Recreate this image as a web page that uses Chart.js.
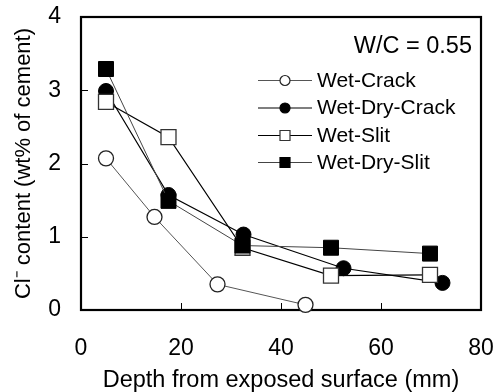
<!DOCTYPE html>
<html>
<head>
<meta charset="utf-8">
<script src="https://cdn.jsdelivr.net/npm/chart.js@4.4.1/dist/chart.umd.min.js"></script>
<style>
  html, body { margin: 0; padding: 0; background: #fff; }
  #wrap { width: 496px; height: 392px; }
</style>
</head>
<body>
<div id="wrap"><canvas id="c" width="496" height="392"></canvas></div>
<script>
// ---- data ----
const seriesNames = ['Wet-Crack', 'Wet-Dry-Crack', 'Wet-Slit', 'Wet-Dry-Slit'];
const wetCrackX = [5, 14.7, 27.3, 44.9];
const wetCrackY = [2.07, 1.27, 0.35, 0.07];
const wetDryCrackX = [5, 17.5, 32.5, 52.5, 72.3];
const wetDryCrackY = [2.99, 1.57, 1.03, 0.57, 0.37];
const wetSlitX = [5, 17.5, 32.3, 50, 69.8];
const wetSlitY = [2.84, 2.36, 0.85, 0.47, 0.48];
const wetDrySlitX = [5, 17.5, 32.3, 50, 69.8];
const wetDrySlitY = [3.29, 1.49, 0.88, 0.85, 0.77];
const xTickValues = [0, 20, 40, 60, 80];
const yTickValues = [0, 1, 2, 3, 4];
const annotationText = 'W/C = 0.55';
const xTitle = 'Depth from exposed surface (mm)';
const yTitle = 'Cl\u207B content (wt% of cement)';

const pts = (xs, ys) => xs.map((x, i) => ({ x: x, y: ys[i] }));
const FONT = '"Liberation Sans", Arial, Helvetica, sans-serif';

const styles = [
  { line: '#555', lw: 1, style: 'circle', r: 7.5, fill: '#fff', border: '#222', bw: 1.3, order: 4 },
  { line: '#000', lw: 1.2, style: 'circle', r: 7.5, fill: '#000', border: '#000', bw: 1, order: 3 },
  { line: '#000', lw: 1.2, style: 'rect', r: 10.6, fill: '#fff', border: '#333', bw: 1.3, order: 2 },
  { line: '#444', lw: 1, style: 'rect', r: 10.6, fill: '#000', border: '#000', bw: 1, order: 1 }
];
const seriesData = [
  pts(wetCrackX, wetCrackY),
  pts(wetDryCrackX, wetDryCrackY),
  pts(wetSlitX, wetSlitY),
  pts(wetDrySlitX, wetDrySlitY)
];

const datasets = seriesNames.map((name, i) => ({
  label: name,
  data: seriesData[i],
  borderColor: styles[i].line,
  borderWidth: styles[i].lw,
  pointStyle: styles[i].style,
  pointRadius: styles[i].r,
  pointHoverRadius: styles[i].r,
  pointBackgroundColor: styles[i].fill,
  pointBorderColor: styles[i].border,
  pointBorderWidth: styles[i].bw,
  showLine: true,
  tension: 0,
  fill: false,
  clip: false,
  order: styles[i].order
}));

const zeroPad = s => { s.paddingLeft = 0; s.paddingRight = 0; s.paddingTop = 0; s.paddingBottom = 0; };

const framePlugin = {
  id: 'frame',
  beforeDatasetsDraw(chart) {
    const { ctx, chartArea: a, scales } = chart;
    ctx.save();
    ctx.strokeStyle = '#000';
    ctx.lineWidth = 1;
    const tl = 7;
    scales.x.ticks.forEach(t => {
      if (t.value <= scales.x.min || t.value >= scales.x.max) return;
      const px = Math.round(scales.x.getPixelForValue(t.value)) + 0.5;
      ctx.beginPath(); ctx.moveTo(px, a.bottom); ctx.lineTo(px, a.bottom - tl); ctx.stroke();
    });
    scales.y.ticks.forEach(t => {
      if (t.value <= scales.y.min || t.value >= scales.y.max) return;
      const py = Math.round(scales.y.getPixelForValue(t.value)) + 0.5;
      ctx.beginPath(); ctx.moveTo(a.left, py); ctx.lineTo(a.left + tl, py); ctx.stroke();
    });
    ctx.lineWidth = 2.2;
    ctx.strokeRect(a.left, a.top, a.right - a.left, a.bottom - a.top);
    ctx.restore();
  },
  afterDatasetsDraw(chart) {
    const { ctx, chartArea: a } = chart;
    ctx.save();
    ctx.fillStyle = '#000';
    ctx.font = '23.5px ' + FONT;
    ctx.textAlign = 'right';
    ctx.textBaseline = 'middle';
    ctx.fillText(annotationText, a.right - 9, a.top + 30);
    // legend
    const lx0 = 258, lx1 = 312, lmid = 285, tx = 317;
    const rows = [80, 107.5, 135, 162];
    ctx.font = '21px ' + FONT;
    ctx.textAlign = 'left';
    seriesNames.forEach((name, i) => {
      const s = styles[i];
      const y = rows[i];
      ctx.strokeStyle = s.line;
      ctx.lineWidth = 1.2;
      ctx.beginPath(); ctx.moveTo(lx0, y + 0.5); ctx.lineTo(lx1, y + 0.5); ctx.stroke();
      ctx.fillStyle = s.fill;
      ctx.strokeStyle = s.border;
      ctx.lineWidth = 1.2;
      ctx.beginPath();
      if (s.style === 'circle') {
        ctx.arc(lmid, y + 0.5, 5, 0, Math.PI * 2);
      } else {
        ctx.rect(lmid - 5, y - 4.5, 10, 10);
      }
      ctx.fill(); ctx.stroke();
      ctx.fillStyle = '#000';
      ctx.fillText(name, tx, y + 1);
    });
    ctx.restore();
  }
};

new Chart(document.getElementById('c'), {
  type: 'scatter',
  data: { datasets: datasets },
  options: {
    responsive: false,
    animation: false,
    events: [],
    layout: { padding: { left: 0, right: 15, top: 17, bottom: 0 } },
    plugins: { legend: { display: false }, tooltip: { enabled: false } },
    scales: {
      x: {
        type: 'linear',
        min: xTickValues[0],
        max: xTickValues[xTickValues.length - 1],
        afterBuildTicks: s => { s.ticks = xTickValues.map(v => ({ value: v })); },
        afterFit: s => { s.height = 82; zeroPad(s); },
        grid: { display: false, drawTicks: false },
        border: { display: false },
        ticks: { color: '#000', font: { family: FONT, size: 23 }, padding: 25, maxRotation: 0 },
        title: { display: true, text: xTitle, color: '#000', font: { family: FONT, size: 23.5, lineHeight: 1.0 }, padding: { top: 0, bottom: 0 } }
      },
      y: {
        type: 'linear',
        min: yTickValues[0],
        max: yTickValues[yTickValues.length - 1],
        afterBuildTicks: s => { s.ticks = yTickValues.map(v => ({ value: v })); },
        afterFit: s => { s.width = 81; zeroPad(s); },
        grid: { display: false, drawTicks: false },
        border: { display: false },
        ticks: { color: '#000', font: { family: FONT, size: 23 }, padding: 20 },
        title: { display: true, text: yTitle, color: '#000', font: { family: FONT, size: 22 }, padding: { top: 11, bottom: 0 } }
      }
    }
  },
  plugins: [framePlugin]
});
</script>
</body>
</html>
